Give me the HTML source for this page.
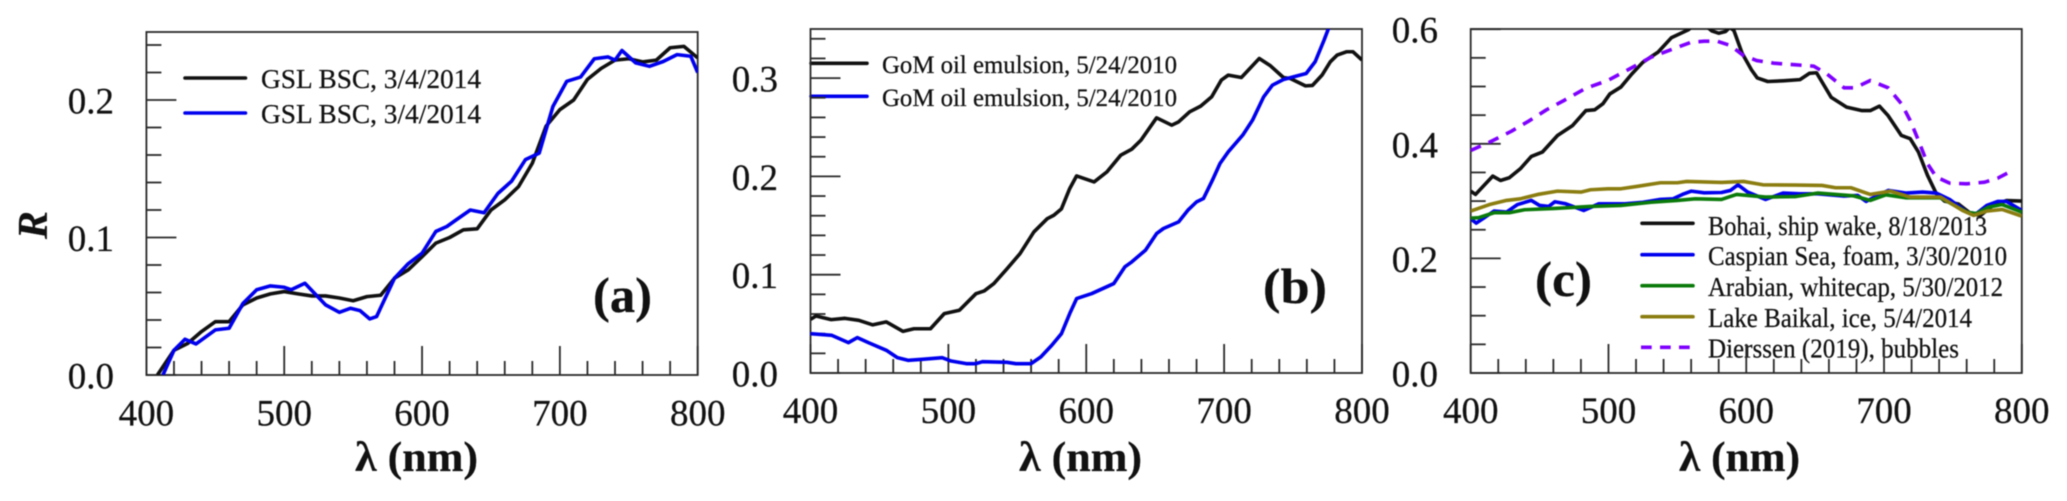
<!DOCTYPE html>
<html lang="en">
<head>
<meta charset="utf-8">
<title>Reflectance spectra panels</title>
<style>
html,body{margin:0;padding:0;background:#fff;}
svg{display:block;font-family:"Liberation Serif",serif;filter:blur(0.4px);}
text{fill:#111;stroke:#111;stroke-width:0.25;}
</style>
</head>
<body>
<svg id="figure" width="2067" height="501" viewBox="0 0 2067 501" xmlns="http://www.w3.org/2000/svg">
  <defs>
    <clipPath id="clip-a"><rect x="146.4" y="32" width="551.3" height="343"/></clipPath>
    <clipPath id="clip-b"><rect x="810.5" y="29" width="551.5" height="344"/></clipPath>
    <clipPath id="clip-c"><rect x="1470.7" y="29" width="551.1" height="344"/></clipPath>
  </defs>

  <g id="panel-a">
    <text transform="translate(47,225) rotate(-90)" text-anchor="middle" font-size="42" font-weight="bold" font-style="italic">R</text>
    <text x="355" y="471" font-size="42" font-weight="bold" textLength="123" lengthAdjust="spacingAndGlyphs">λ (nm)</text>
    <text x="593" y="312" font-size="50" font-weight="bold" textLength="59" lengthAdjust="spacingAndGlyphs">(a)</text>
    <g>
      <line x1="185" x2="245.5" y1="78" y2="78" stroke="#111" stroke-width="3.6" stroke-linecap="round"/>
      <text x="261" y="88" font-size="27" textLength="220" lengthAdjust="spacingAndGlyphs">GSL BSC, 3/4/2014</text>
      <line x1="185" x2="245.5" y1="113" y2="113" stroke="#0000ee" stroke-width="3.6" stroke-linecap="round"/>
      <text x="261" y="123" font-size="27" textLength="220" lengthAdjust="spacingAndGlyphs">GSL BSC, 3/4/2014</text>
    </g>
  </g>

  <g id="panel-b">
    <text x="1019" y="471" font-size="42" font-weight="bold" textLength="123" lengthAdjust="spacingAndGlyphs">λ (nm)</text>
    <text x="1263" y="303" font-size="50" font-weight="bold" textLength="64" lengthAdjust="spacingAndGlyphs">(b)</text>
    <g>
      <line x1="811" x2="867" y1="63.3" y2="63.3" stroke="#111" stroke-width="3.6" stroke-linecap="round"/>
      <text x="882" y="73" font-size="25" textLength="295" lengthAdjust="spacingAndGlyphs">GoM oil emulsion, 5/24/2010</text>
      <line x1="811" x2="867" y1="96.3" y2="96.3" stroke="#0000ee" stroke-width="3.6" stroke-linecap="round"/>
      <text x="882" y="106" font-size="25" textLength="295" lengthAdjust="spacingAndGlyphs">GoM oil emulsion, 5/24/2010</text>
    </g>
  </g>

  <g id="panel-c">
    <text x="1679" y="471" font-size="42" font-weight="bold" textLength="121" lengthAdjust="spacingAndGlyphs">λ (nm)</text>
    <text x="1535" y="296" font-size="50" font-weight="bold" textLength="57" lengthAdjust="spacingAndGlyphs">(c)</text>
    <g>
      <line x1="1642" x2="1693" y1="223.3" y2="223.3" stroke="#111" stroke-width="3.6" stroke-linecap="round"/>
      <text x="1708" y="235" font-size="27" textLength="279" lengthAdjust="spacingAndGlyphs">Bohai, ship wake, 8/18/2013</text>
      <line x1="1642" x2="1693" y1="254.7" y2="254.7" stroke="#0000ee" stroke-width="3.6" stroke-linecap="round"/>
      <text x="1708" y="265" font-size="27" textLength="299" lengthAdjust="spacingAndGlyphs">Caspian Sea, foam, 3/30/2010</text>
      <line x1="1642" x2="1693" y1="285.7" y2="285.7" stroke="#0a7a0a" stroke-width="3.6" stroke-linecap="round"/>
      <text x="1708" y="296" font-size="27" textLength="295" lengthAdjust="spacingAndGlyphs">Arabian, whitecap, 5/30/2012</text>
      <line x1="1642" x2="1693" y1="316.7" y2="316.7" stroke="#8b7d10" stroke-width="3.6" stroke-linecap="round"/>
      <text x="1708" y="327" font-size="27" textLength="264" lengthAdjust="spacingAndGlyphs">Lake Baikal, ice, 5/4/2014</text>
      <line x1="1641" x2="1691" y1="347.3" y2="347.3" stroke="#7f00ff" stroke-width="3.6" stroke-dasharray="10.7 8.3"/>
      <text x="1708" y="357.5" font-size="27" textLength="251" lengthAdjust="spacingAndGlyphs">Dierssen (2019), bubbles</text>
    </g>
  </g>
</svg>

<script>
// Shared x axis
const xMajorTicks = [400, 500, 600, 700, 800];
const xMajorLabels = ["400", "500", "600", "700", "800"];
const xMinorTicks = [420, 440, 460, 480, 520, 540, 560, 580, 620, 640, 660, 680, 720, 740, 760, 780];

// Panel (a) axis values
const aYMajor = [0, 0.1, 0.2];
const aYLabels = ["0.0", "0.1", "0.2"];
const aYMinor = [0.02, 0.04, 0.06, 0.08, 0.12, 0.14, 0.16, 0.18, 0.22, 0.24];
// Panel (a) series
const aBlackWl = [408,420,430,440,450,460,470,480,490,500,510,520,530,540,550,560,570,580,590,600,610,620,630,640,650,660,670,680,690,700,710,720,730,740,750,760,770,780,790,800];
const aBlackR = [0,.018,.023,.0316,.0388,.0388,.051,.056,.059,.0607,.059,.0575,.0575,.056,.054,.057,.058,.0704,.0765,.086,.0959,.1,.1056,.1063,.12,.1274,.137,.154,.181,.193,.2,.215,.223,.229,.23,.2277,.229,.238,.239,.2306];
const aBlueWl = [412,420,428,436,450,460,470,480,490,500,505,515,530,540,548,555,562,567,580,590,600,610,618,625,635,645,655,665,675,685,695,705,715,725,735,740,745,755,765,775,785,795,800];
const aBlueR = [0,.018,.026,.0226,.0328,.034,.052,.062,.0648,.0638,.062,.0667,.051,.0456,.0485,.0468,.0408,.0425,.0704,.081,.0886,.1044,.108,.113,.12,.118,.132,.141,.1566,.1614,.1954,.2136,.2167,.23,.2313,.229,.236,.227,.2245,.228,.233,.2318,.22];

// Panel (b) axis values
const bYMajor = [0, 0.1, 0.2, 0.3];
const bYLabels = ["0.0", "0.1", "0.2", "0.3"];
const bYMinor = [0.02, 0.04, 0.06, 0.08, 0.12, 0.14, 0.16, 0.18, 0.22, 0.24, 0.26, 0.28, 0.32, 0.34];
// Panel (b) series
const bBlackWl = [400,404,415,425,435,445,455,467,475,487,497,508,520,526,533,542.5,552,562,571.7,576.5,582,588,593,605.7,615,625,633,639.7,651,662,667,675,683,691,698,703,712.5,725.5,733.6,743,748,759,764,771,777,782,788.7,793.5,800];
const bBlackR = [.0546,.058,.0543,.0556,.0536,.049,.052,.0424,.045,.045,.0604,.0638,.0807,.0835,.091,.106,.1215,.1435,.157,.1605,.167,.1876,.2005,.1944,.2046,.2216,.2277,.2369,.2596,.2521,.2555,.2657,.2715,.281,.298,.303,.3006,.32,.3125,.3006,.2996,.2921,.2925,.303,.3166,.3234,.3268,.3268,.3183];
const bBlueWl = [400,415.5,427.5,434,442,455,463,471,481,495.5,502,513,520,524.7,542.5,549,560,567,575,582,588,593,604,620,628,633,643,651,656,667,673.7,680,685,691.5,697,703,713.5,720.6,728.7,735,743,759.5,766,772.5,775.7];
const bBlueR = [.04,.0383,.0309,.036,.0309,.0231,.0156,.0129,.0139,.0156,.0122,.0095,.0095,.0115,.0109,.0095,.0095,.0163,.0282,.04,.0604,.0757,.0808,.091,.108,.113,.125,.1418,.147,.1537,.1656,.1741,.1775,.1961,.2131,.225,.242,.2572,.281,.2928,.2986,.3047,.3166,.3387,.3505];

// Panel (c) axis values
const cYMajor = [0, 0.2, 0.4, 0.6];
const cYLabels = ["0.0", "0.2", "0.4", "0.6"];
const cYMinor = [0.05, 0.1, 0.15, 0.25, 0.3, 0.35, 0.45, 0.5, 0.55];
// Panel (c) series
const cBohaiWl = [400,403.5,416,421.6,428,436,444,452,463,474,483.6,490,496,501,509,517,525,536,545.6,558,563,571,575,580,585,588,591,597,603.8,608,615.6,626.7,639,645.8,651,661.7,672.8,684,690,696.7,703,712.6,719,725,731.6,738,744,753.9,763,770,779,788.9,800];
const cBohaiR = [.3174,.3116,.3436,.336,.3407,.3564,.378,.3855,.4145,.432,.458,.4593,.47,.487,.499,.522,.5424,.56,.585,.599,.61,.605,.597,.593,.596,.603,.598,.558,.529,.515,.5087,.51,.512,.523,.524,.481,.464,.458,.458,.4657,.449,.4145,.409,.3855,.3448,.3128,.3,.295,.278,.275,.2924,.301,.3];
const cCaspianWl = [400,404,410.5,416.9,426,434,444,450,456.6,461,469,482,493,512,525,537.7,547,553.6,560,569.5,582,588.5,594,601,614,626.7,639,652,671,680.8,687,693,703,715.7,728,738,747.6,760,767,774.6,782.5,788.9,800];
const cCaspianR = [.2692,.2616,.272,.2826,.2808,.294,.3012,.2924,.2907,.2988,.2953,.2837,.2953,.2953,.298,.3029,.304,.3116,.3174,.3145,.315,.3186,.3285,.3157,.3029,.314,.3128,.3128,.3087,.31,.2994,.307,.3186,.314,.3157,.314,.3029,.2808,.278,.2924,.2994,.2994,.2837];
const cArabianWl = [400,405.7,416.9,428,439,461,487,509,531,550,563,582,593,614,636,652,677.6,690,701.4,715.7,741,760,767,776,785.7,800];
const cArabianR = [.2703,.271,.2797,.2797,.2849,.2872,.2907,.2924,.298,.3012,.304,.3029,.3116,.307,.308,.314,.3093,.3012,.311,.3058,.3058,.2808,.278,.2895,.294,.2808];
const cBaikalWl = [400,413.7,426,436,448.6,463,480,487,499.5,509,521.8,537.7,550,556.8,582,598,612,636,655,664.9,676,690,704.6,719,741,757,765,774.6,785.7,800];
const cBaikalR = [.2826,.294,.3012,.304,.3116,.3174,.3157,.3198,.3215,.3215,.326,.332,.332,.3343,.3326,.3343,.3285,.328,.3273,.3233,.3233,.3116,.3174,.307,.307,.2837,.275,.2826,.2855,.2738];
const cBubblesWl = [400,413.7,429.6,442,455,467.7,483.6,499.5,515.4,531,547,560,569.5,579,588.5,598,607.6,620,636,649,658.5,671,679,690,703,712.6,719,725,731.6,738,747.6,760,773,782.5,791];
const cBubblesR = [.3884,.4029,.422,.4395,.4593,.4756,.497,.5105,.5308,.5512,.5657,.5773,.579,.579,.5715,.554,.5453,.5407,.5378,.5355,.522,.4977,.4977,.5105,.4977,.47,.4407,.4058,.365,.3419,.3314,.3302,.333,.34,.3506];

const SVG_NS = 'http://www.w3.org/2000/svg';

function xAxisFn(left, right) {
  return function (wl) { return left + (wl - 400) * (right - left) / 400; };
}
function yAxisFn(bottom, pxPerUnit) {
  return function (v) { return bottom - v * pxPerUnit; };
}

function line(parent, x1, y1, x2, y2, width) {
  const el = document.createElementNS(SVG_NS, 'line');
  el.setAttribute('x1', x1);
  el.setAttribute('y1', y1);
  el.setAttribute('x2', x2);
  el.setAttribute('y2', y2);
  el.setAttribute('stroke', '#2a2a2a');
  el.setAttribute('stroke-width', width);
  parent.appendChild(el);
  return el;
}

function label(parent, x, y, str, anchor) {
  const el = document.createElementNS(SVG_NS, 'text');
  el.setAttribute('x', x);
  el.setAttribute('y', y);
  el.setAttribute('font-size', '37');
  el.setAttribute('text-anchor', anchor);
  el.textContent = str;
  parent.appendChild(el);
  return el;
}

function drawAxes(panel, x, y, top, layout, yMajor, yLabels, yMinor) {
  const bottom = y(0);
  const left = x(400);
  const right = x(800);

  const frame = document.createElementNS(SVG_NS, 'rect');
  
  
  frame.setAttribute('x', left);
  frame.setAttribute('y', top);
  frame.setAttribute('width', right - left);
  frame.setAttribute('height', bottom - top);
  frame.setAttribute('fill', 'none');
  frame.setAttribute('stroke', '#2a2a2a');
  frame.setAttribute('stroke-width', '1.8');
  panel.appendChild(frame);

  xMajorTicks.forEach(function (wl, i) {
    const tick = line(panel, x(wl), bottom, x(wl), bottom - 29, 1.8);
    
    
    const text = label(panel, x(wl) + layout.xLabelShift, layout.xLabelY, xMajorLabels[i], 'middle');
    
    
  });
  xMinorTicks.forEach(function (wl) {
    const tick = line(panel, x(wl), bottom, x(wl), bottom - 14, 1.8);
    
    
  });
  yMajor.forEach(function (v, i) {
    const tick = line(panel, left, y(v), left + 30, y(v), 1.8);
    
    
    const text = label(panel, layout.yLabelX, y(v) + 13.5, yLabels[i], 'end');
    
    
  });
  yMinor.forEach(function (v) {
    const tick = line(panel, left, y(v), left + 15, y(v), 1.8);
    
    
  });
}

function drawSeries(panel, clipId, x, y, wl, values, color, dash) {
  const el = document.createElementNS(SVG_NS, 'polyline');
  el.setAttribute('points', wl.map(function (w, i) {
    return x(w).toFixed(2) + ',' + y(values[i]).toFixed(2);
  }).join(' '));
  el.setAttribute('fill', 'none');
  el.setAttribute('stroke', color);
  el.setAttribute('stroke-width', '3.6');
  el.setAttribute('stroke-linejoin', 'round');
  el.setAttribute('clip-path', 'url(#' + clipId + ')');
  if (dash) {
    el.setAttribute('stroke-dasharray', dash);
  }
  panel.appendChild(el);
  return el;
}

const BLACK = '#111111';
const BLUE = '#0000ee';
const GREEN = '#0a7a0a';
const OLIVE = '#8b7d10';
const PURPLE = '#7f00ff';

// Panel (a)
const panelA = document.getElementById('panel-a');
const xA = xAxisFn(146.4, 697.7);
const yA = yAxisFn(375, 1375);
drawAxes(panelA, xA, yA, 32, { xLabelY: 425.5, xLabelShift: 0, yLabelX: 114 }, aYMajor, aYLabels, aYMinor);
const aBlackLine = drawSeries(panelA, 'clip-a', xA, yA, aBlackWl, aBlackR, BLACK);


const aBlueLine = drawSeries(panelA, 'clip-a', xA, yA, aBlueWl, aBlueR, BLUE);



// Panel (b)
const panelB = document.getElementById('panel-b');
const xB = xAxisFn(810.5, 1362);
const yB = yAxisFn(373, 983);
drawAxes(panelB, xB, yB, 29, { xLabelY: 423, xLabelShift: 0, yLabelX: 778 }, bYMajor, bYLabels, bYMinor);
const bBlackLine = drawSeries(panelB, 'clip-b', xB, yB, bBlackWl, bBlackR, BLACK);


const bBlueLine = drawSeries(panelB, 'clip-b', xB, yB, bBlueWl, bBlueR, BLUE);



// Panel (c)
const panelC = document.getElementById('panel-c');
const xC = xAxisFn(1470.7, 2021.8);
const yC = yAxisFn(373, 573);
drawAxes(panelC, xC, yC, 29, { xLabelY: 423, xLabelShift: 0, yLabelX: 1438 }, cYMajor, cYLabels, cYMinor);
const cBohaiLine = drawSeries(panelC, 'clip-c', xC, yC, cBohaiWl, cBohaiR, BLACK);


const cCaspianLine = drawSeries(panelC, 'clip-c', xC, yC, cCaspianWl, cCaspianR, BLUE);


const cArabianLine = drawSeries(panelC, 'clip-c', xC, yC, cArabianWl, cArabianR, GREEN);


const cBaikalLine = drawSeries(panelC, 'clip-c', xC, yC, cBaikalWl, cBaikalR, OLIVE);


const cBubblesLine = drawSeries(panelC, 'clip-c', xC, yC, cBubblesWl, cBubblesR, PURPLE, '11 8.5');


</script>
</body>
</html>
